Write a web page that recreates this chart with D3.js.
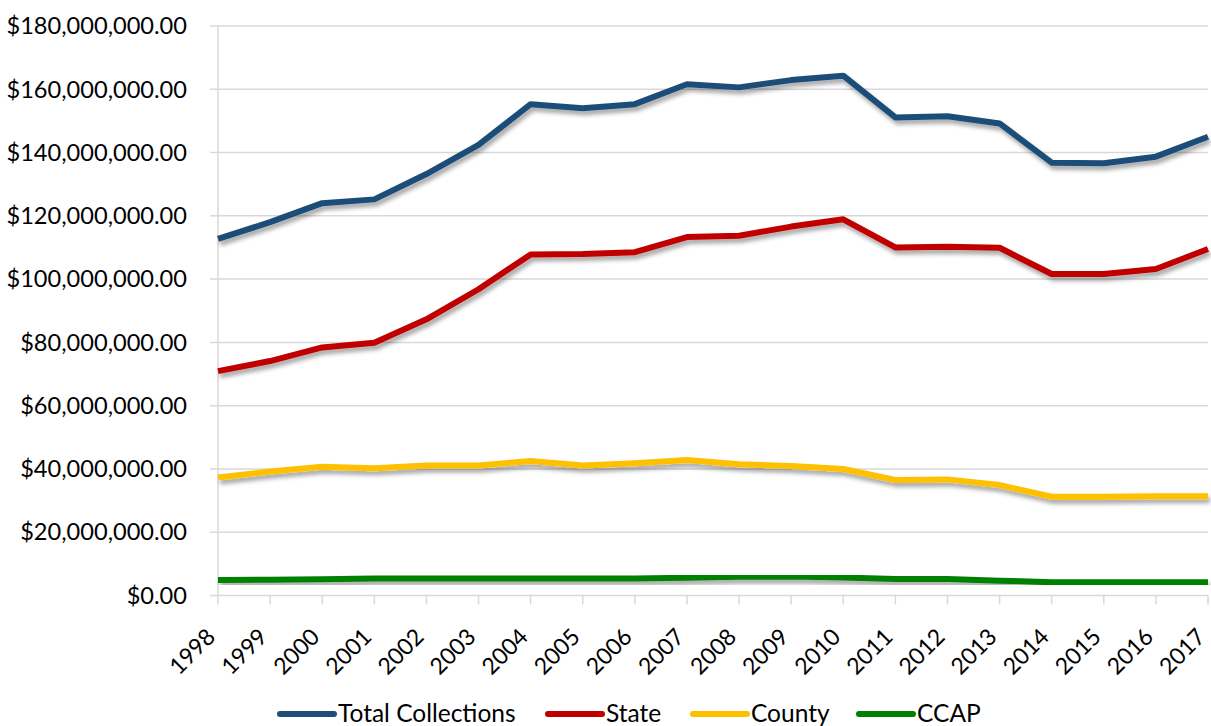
<!DOCTYPE html>
<html>
<head>
<meta charset="utf-8">
<script src="https://cdn.jsdelivr.net/npm/d3@7"></script>
<style>
  html, body { margin: 0; padding: 0; background: #fff; }
  svg { display: block; }
  text { font-family: Lato, "Open Sans", sans-serif; fill: #000; }
</style>
</head>
<body>
<svg id="chart" width="1211" height="726"></svg>
<script>
const years = ["1998","1999","2000","2001","2002","2003","2004","2005","2006","2007","2008","2009","2010","2011","2012","2013","2014","2015","2016","2017"];
const totalCollections = [112.7,118.0,124.0,125.2,133.2,142.4,155.3,154.0,155.3,161.6,160.6,162.9,164.3,151.1,151.5,149.2,136.8,136.6,138.7,145.0];
const state = [70.9,74.1,78.4,79.9,87.3,96.8,107.8,107.9,108.5,113.3,113.7,116.6,118.9,110.0,110.2,109.9,101.6,101.6,103.2,109.5];
const county = [37.3,39.2,40.7,40.2,41.1,41.1,42.5,41.1,41.8,42.8,41.5,40.9,40.0,36.5,36.7,34.9,31.2,31.2,31.4,31.4];
const ccap = [4.9,5.0,5.1,5.4,5.4,5.4,5.4,5.4,5.4,5.6,5.9,6.0,5.7,5.2,5.2,4.7,4.2,4.2,4.2,4.2];
const yTicks = [0,20,40,60,80,100,120,140,160,180];
const seriesNames = ["Total Collections","State","County","CCAP"];
const seriesColors = ["#1F4E79","#C00000","#FFC000","#008000"];

(function () {
const seriesValues = [totalCollections, state, county, ccap];
const svg = d3.select("#chart");

const defs = svg.append("defs");
const f = defs.append("filter").attr("id","shadow").attr("x","-5%").attr("y","-20%").attr("width","110%").attr("height","160%");
f.append("feDropShadow").attr("dx",2).attr("dy",4).attr("stdDeviation",2.2)
  .attr("flood-color","#000").attr("flood-opacity",0.35);

const mL = 218, mR = 1208, mT = 26, mB = 595.5;
const x = d3.scalePoint().domain(years).range([mL, mR]);
const y = d3.scaleLinear().domain([0,180]).range([mB, mT]);

const fmt = v => "$" + d3.format(",.2f")(v * 1e6);

// gridlines
svg.append("g").selectAll("line").data(yTicks).join("line")
  .attr("x1", mL - 8).attr("x2", mR)
  .attr("y1", d => y(d)).attr("y2", d => y(d))
  .attr("stroke", "#d9d9d9").attr("stroke-width", 1.5);

// y axis line
svg.append("line").attr("x1", mL).attr("x2", mL).attr("y1", mT).attr("y2", mB)
  .attr("stroke", "#d9d9d9").attr("stroke-width", 1.5);

// y labels
svg.append("g").selectAll("text").data(yTicks).join("text")
  .attr("x", 187).attr("y", d => y(d)).attr("dy", "0.35em")
  .attr("text-anchor", "end").style("font-size", "23.6px")
  .text(d => fmt(d));

// x ticks
svg.append("g").selectAll("line").data(years).join("line")
  .attr("x1", d => x(d)).attr("x2", d => x(d))
  .attr("y1", mB).attr("y2", mB + 9)
  .attr("stroke", "#d9d9d9").attr("stroke-width", 1.5);

// x labels
svg.append("g").selectAll("text").data(years).join("text")
  .attr("transform", d => `translate(${x(d) - 7},${mB + 37}) rotate(-45)`)
  .attr("text-anchor", "end").attr("dy", "0.35em").style("font-size", "23px")
  .text(d => d);

// lines
const line = d3.line().x((d, i) => x(years[i])).y(d => y(d));
svg.append("g").selectAll("path").data(seriesValues).join("path")
  .attr("d", d => line(d))
  .attr("fill", "none")
  .attr("stroke", (d, i) => seriesColors[i])
  .attr("stroke-width", 6)
  .attr("stroke-linejoin", "round")
  .attr("filter", "url(#shadow)");

// legend
const legendX = [280, 548, 693, 859];
const lg = svg.append("g");
seriesNames.forEach((n, i) => {
  lg.append("line").attr("x1", legendX[i]).attr("x2", legendX[i] + 54)
    .attr("y1", 714).attr("y2", 714)
    .attr("stroke", seriesColors[i]).attr("stroke-width", 6).attr("stroke-linecap", "round");
  lg.append("text").attr("x", legendX[i] + 58).attr("y", 722).style("font-size", "24.5px").text(n);
});
})();
</script>
</body>
</html>
